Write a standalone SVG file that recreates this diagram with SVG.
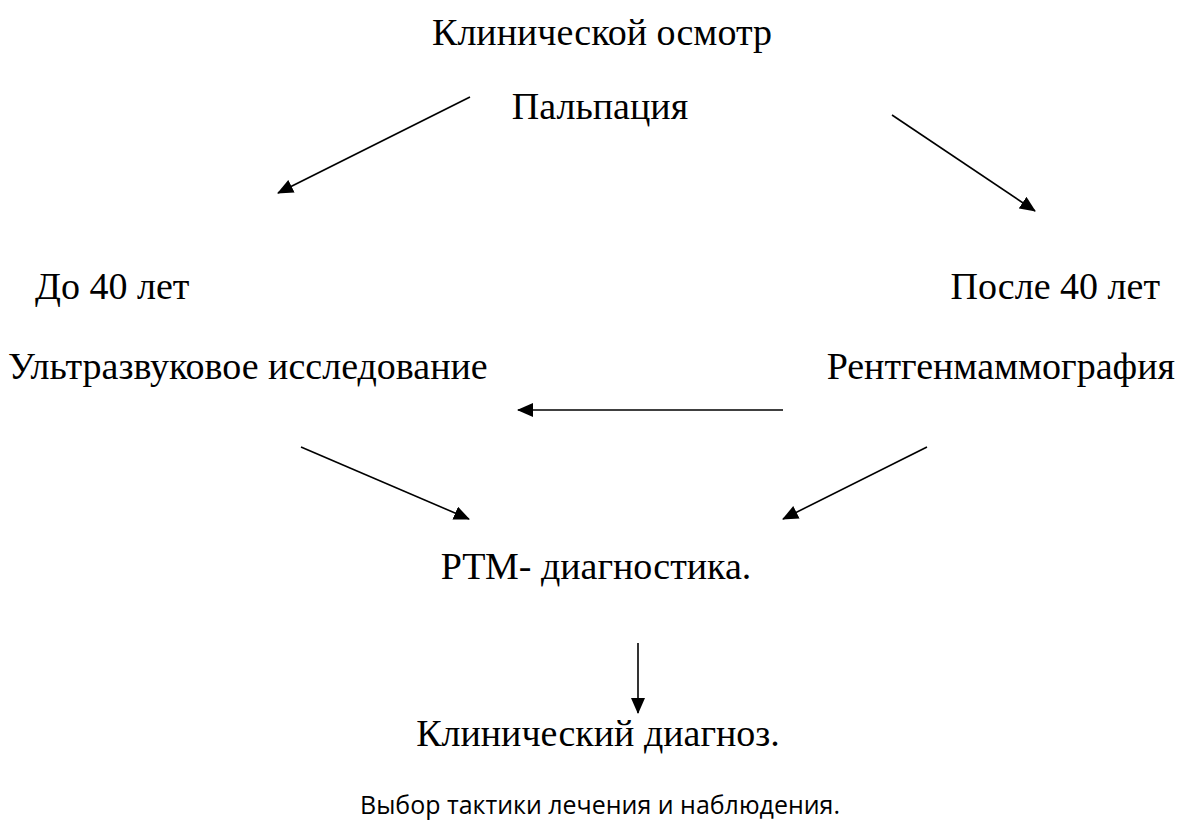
<svg xmlns="http://www.w3.org/2000/svg" width="1192" height="830" viewBox="0 0 1192 830">
<style>
.t{font-family:'Liberation Serif','Times New Roman',serif;font-size:38px;fill:#000}
.s{font-family:'Open Sans','Noto Sans',sans-serif;font-size:26px;fill:#000}
.c{stroke:#000;stroke-width:1.6;fill:none;marker-end:url(#ah)}
</style>
<defs>
<marker id="ah" viewBox="0 0 16 14" refX="15" refY="7" markerWidth="16" markerHeight="14" markerUnits="userSpaceOnUse" orient="auto">
<path d="M0,0 L16,7 L0,14 z" fill="#000"/>
</marker>
</defs>
<rect width="1192" height="830" fill="#fff"/>
<g id="n-osmotr"><text class="t" x="602" y="45" text-anchor="middle">Клинической осмотр</text></g>
<g id="n-palp"><text class="t" x="600" y="119" text-anchor="middle">Пальпация</text></g>
<g id="n-do40"><text class="t" x="35" y="299">До 40 лет</text></g>
<g id="n-posle40"><text class="t" x="1160" y="299" text-anchor="end">После 40 лет</text></g>
<g id="n-uzi"><text class="t" x="8" y="379">Ультразвуковое исследование</text></g>
<g id="n-rmg"><text class="t" x="1175" y="379" text-anchor="end">Рентгенмаммография</text></g>
<g id="n-rtm"><text class="t" x="596" y="579" text-anchor="middle">РТМ- диагностика.</text></g>
<g id="n-diag"><text class="t" x="598" y="746" text-anchor="middle">Клинический диагноз.</text></g>
<g id="n-vybor"><text class="s" x="600" y="814" text-anchor="middle" textLength="480" lengthAdjust="spacingAndGlyphs">Выбор тактики лечения и наблюдения.</text></g>
<g id="connectors">
<line class="c" x1="470" y1="97" x2="278" y2="193"/>
<line class="c" x1="892" y1="115" x2="1035" y2="211"/>
<line class="c" x1="783" y1="410" x2="518" y2="410"/>
<line class="c" x1="301" y1="447" x2="469" y2="519"/>
<line class="c" x1="927" y1="447" x2="783" y2="519"/>
<line class="c" x1="638" y1="643" x2="638" y2="713"/>
</g>
</svg>
